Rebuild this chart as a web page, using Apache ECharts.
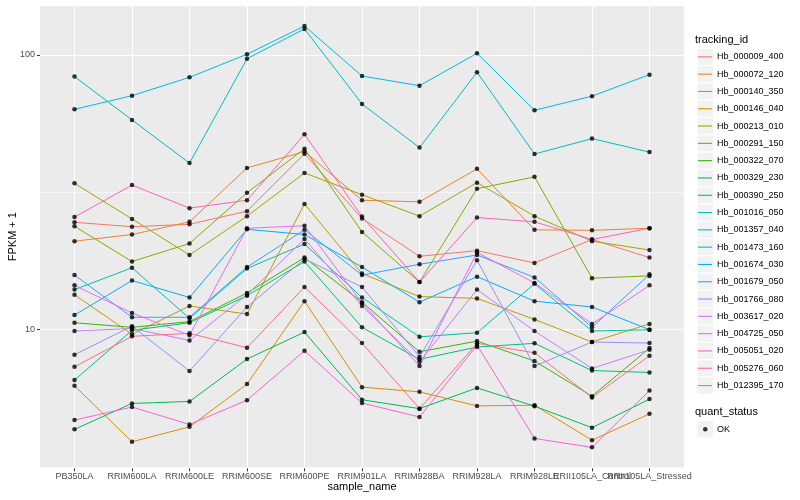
<!DOCTYPE html>
<html><head><meta charset="utf-8">
<script src="https://cdn.jsdelivr.net/npm/echarts@6/dist/echarts.min.js"></script>
<style>html,body{margin:0;padding:0;background:#fff}#c{width:800px;height:500px}</style>
</head><body><div id="c"></div>
<script>
const samples = ['PB350LA','RRIM600LA','RRIM600LE','RRIM600SE','RRIM600PE','RRIM901LA','RRIM928BA','RRIM928LA','RRIM928LE','RRII105LA_Control','RRII105LA_Stressed'];
const trackingIds = ['Hb_000009_400','Hb_000072_120','Hb_000140_350','Hb_000146_040','Hb_000213_010','Hb_000291_150','Hb_000322_070','Hb_000329_230','Hb_000390_250','Hb_001016_050','Hb_001357_040','Hb_001473_160','Hb_001674_030','Hb_001679_050','Hb_001766_080','Hb_003617_020','Hb_004725_050','Hb_005051_020','Hb_005276_060','Hb_012395_170'];
const colors = ['#F8766D','#EA8331','#D89000','#C09B00','#A3A500','#7CAE00','#39B600','#00BB4E','#00BF7D','#00C1A3','#00BFC4','#00BAE0','#00B0F6','#35A2FF','#9590FF','#C77CFF','#E76BF3','#FA62DB','#FF62BC','#FF6C91'];
const yMinorTicks = [3.1623, 31.623];

const Hb_000009_400 = [24.6, 23.7, 24.2, 27.0, 43.7, 25.4, 18.5, 19.4, 17.5, 21.3, 18.3];
const Hb_000072_120 = [21.0, 22.2, 24.7, 38.8, 44.5, 29.6, 29.2, 38.5, 23.1, 23.0, 23.4];
const Hb_000140_350 = [6.25, 3.91, 4.43, 6.34, 12.7, 6.18, 5.94, 5.28, 5.31, 3.96, 4.94];
const Hb_000146_040 = [13.4, 9.62, 12.2, 11.4, 28.7, 16.0, 13.2, 13.0, 10.9, 9.02, 10.5];
const Hb_000213_010 = [34.1, 25.3, 18.7, 25.9, 37.2, 31.0, 25.9, 34.3, 25.9, 21.0, 19.5];
const Hb_000291_150 = [23.8, 17.7, 20.6, 31.5, 45.6, 22.7, 14.9, 32.6, 36.0, 15.4, 15.7];
const Hb_000322_070 = [10.6, 10.2, 10.7, 13.6, 18.3, 12.6, 8.31, 9.09, 7.69, 5.73, 8.57];
const Hb_000329_230 = [4.34, 5.39, 5.48, 7.82, 9.80, 5.56, 5.16, 6.14, 5.27, 4.40, 5.59];
const Hb_000390_250 = [6.56, 9.95, 10.6, 13.3, 17.7, 10.2, 7.80, 8.65, 8.92, 7.10, 6.99];
const Hb_001016_050 = [14.0, 16.8, 11.0, 16.7, 20.5, 13.1, 9.42, 9.75, 14.7, 9.89, 10.0];
const Hb_001357_040 = [83.4, 58.0, 40.4, 96.9, 124.4, 66.3, 46.0, 86.5, 43.6, 49.6, 44.3];
const Hb_001473_160 = [63.4, 71.1, 82.9, 100.6, 127.5, 83.8, 77.3, 101.4, 62.9, 70.8, 84.8];
const Hb_001674_030 = [11.3, 15.1, 13.1, 23.2, 22.2, 16.9, 12.6, 15.6, 12.7, 12.1, 10.0];
const Hb_001679_050 = [15.8, 11.1, 11.1, 16.9, 23.1, 15.8, 17.3, 18.7, 15.5, 10.2, 15.9];
const Hb_001766_080 = [8.11, 10.3, 7.07, 12.1, 18.1, 14.3, 7.97, 17.9, 7.37, 9.02, 8.94];
const Hb_003617_020 = [9.89, 10.1, 9.14, 13.4, 21.4, 12.2, 7.64, 14.0, 9.89, 7.23, 8.45];
const Hb_004725_050 = [14.5, 11.5, 9.54, 23.4, 23.9, 12.5, 7.37, 19.1, 14.8, 10.5, 14.5];
const Hb_005051_020 = [4.69, 5.23, 4.52, 5.54, 8.38, 5.41, 4.81, 8.79, 4.02, 3.73, 6.01];
const Hb_005276_060 = [25.7, 33.6, 27.7, 29.6, 51.4, 25.8, 14.9, 25.6, 24.7, 21.3, 23.4];
const Hb_012395_170 = [7.33, 9.46, 9.70, 8.60, 14.3, 8.94, 5.16, 8.92, 8.24, 5.67, 8.04];

const seriesValues = [Hb_000009_400, Hb_000072_120, Hb_000140_350, Hb_000146_040, Hb_000213_010, Hb_000291_150, Hb_000322_070, Hb_000329_230, Hb_000390_250, Hb_001016_050, Hb_001357_040, Hb_001473_160, Hb_001674_030, Hb_001679_050, Hb_001766_080, Hb_003617_020, Hb_004725_050, Hb_005051_020, Hb_005276_060, Hb_012395_170];

const FONT = '"Liberation Sans", Arial, Helvetica, sans-serif';
const chart = echarts.init(document.getElementById('c'), null, {renderer: 'canvas'});

const lineSeries = trackingIds.map((id, i) => ({
  type: 'line', name: id,
  data: seriesValues[i].map((v, j) => [j, v]),
  symbol: 'none', showSymbol: false,
  lineStyle: {width: 1, color: colors[i]},
  itemStyle: {color: colors[i]},
  emphasis: {disabled: true},
  silent: true, z: 2, animation: false
}));
const points = [];
seriesValues.forEach(arr => arr.forEach((v, j) => points.push([j, v])));

const minorGridSeries = {
  type: 'line', name: 'minor', data: [], silent: true, z: 1, animation: false,
  markLine: {
    silent: true, symbol: 'none', z: 1, animation: false,
    label: {show: false},
    lineStyle: {color: '#FFFFFF', width: 0.55, type: 'solid'},
    emphasis: {disabled: true},
    data: yMinorTicks.map(v => ({yAxis: v}))
  }
};

const keyStep = 17.3, keyTop = 48.2;
const graphics = trackingIds.map((id, i) => ({
  type: 'rect', left: 697.5, top: keyTop + i * keyStep + 0.6,
  shape: {width: 15.6, height: 16.1}, style: {fill: '#F2F2F2'}, z: -1, silent: true
}));
graphics.push({type: 'rect', left: 697.5, top: 421.2, shape: {width: 15.6, height: 16.1}, style: {fill: '#F2F2F2'}, z: -1, silent: true});

const idx = samples.map((s, i) => i);
const xCommon = {
  type: 'value', min: -0.6, max: 10.6, position: 'bottom', offset: 0,
  axisLine: {show: false, onZero: false}
};

const option = {
  animation: false,
  backgroundColor: '#FFFFFF',
  textStyle: {fontFamily: FONT},
  title: [
    {text: 'tracking_id', left: 695, top: 34, padding: 0, textStyle: {fontSize: 11, fontWeight: 'normal', color: '#000', fontFamily: FONT}},
    {text: 'quant_status', left: 695, top: 406, padding: 0, textStyle: {fontSize: 11, fontWeight: 'normal', color: '#000', fontFamily: FONT}}
  ],
  graphic: graphics,
  grid: {left: 40, right: 116, top: 5, bottom: 31.7, show: true, backgroundColor: '#EBEBEB', borderWidth: 0, outerBoundsMode: 'none', containLabel: false},
  legend: [
    {data: trackingIds, orient: 'vertical', left: 698, top: keyTop + 0.6, padding: 0,
     icon: 'path://M0,0L28,0L28,2.2L0,2.2Z',
     itemWidth: 14, itemHeight: 16.1, itemGap: 1.2, selectedMode: false,
     textStyle: {fontSize: 9, lineHeight: 16.1, color: '#000', fontFamily: FONT}},
    {data: ['OK'], orient: 'vertical', left: 703, top: 421.2, padding: 0,
     itemWidth: 4.5, itemHeight: 4.5, itemGap: 0, selectedMode: false, icon: 'circle',
     textStyle: {fontSize: 9, lineHeight: 16.1, color: '#000', fontFamily: FONT, padding: [0, 0, 0, 4.5]}}
  ],
  xAxis: [Object.assign({}, xCommon, {
    name: 'sample_name', nameLocation: 'middle', nameGap: 13, nameMoveOverlap: false,
    nameTextStyle: {fontSize: 11, color: '#000', fontFamily: FONT},
    axisTick: {show: true, length: 3, lineStyle: {color: '#333333', width: 1}, customValues: idx},
    axisLabel: {show: true, margin: 4, fontSize: 9, color: '#4D4D4D', fontFamily: FONT,
      customValues: idx.filter(i => i !== 9), hideOverlap: false, showMinLabel: true, showMaxLabel: true,
      formatter: v => samples[Math.round(v)] || ''},
    splitLine: {show: true, lineStyle: {color: '#FFFFFF', width: 1.1}}
  }), Object.assign({}, xCommon, {
    axisTick: {show: false, customValues: [9]},
    axisLabel: {show: true, margin: 4, fontSize: 9, color: '#4D4D4D', fontFamily: FONT,
      customValues: [9], hideOverlap: false, showMinLabel: true, showMaxLabel: true,
      formatter: v => samples[Math.round(v)] || ''},
    splitLine: {show: false}
  })],
  yAxis: {
    type: 'log', logBase: 10, min: 3.13, max: 152, position: 'left',
    name: 'FPKM + 1', nameLocation: 'middle', nameGap: 22, nameRotate: 90, nameMoveOverlap: false,
    nameTextStyle: {fontSize: 11, color: '#000', fontFamily: FONT},
    axisLine: {show: false, onZero: false},
    axisTick: {show: true, length: 3, lineStyle: {color: '#333333', width: 1}},
    axisLabel: {show: true, margin: 5, fontSize: 9, color: '#4D4D4D', fontFamily: FONT,
      showMinLabel: false, showMaxLabel: false,
      formatter: v => String(Math.round(v))},
    splitLine: {show: true, lineStyle: {color: '#FFFFFF', width: 1.1}}
  },
  series: [minorGridSeries].concat(lineSeries).concat([{
    type: 'scatter', name: 'OK', data: points, symbol: 'circle', symbolSize: 4.5,
    itemStyle: {color: '#000000'}, z: 5, silent: true, animation: false
  }])
};
chart.setOption(option);
</script>
</body></html>
